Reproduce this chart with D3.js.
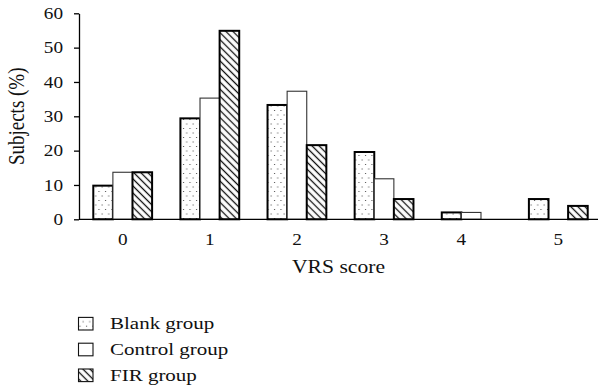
<!DOCTYPE html>
<html>
<head>
<meta charset="utf-8">
<script src="https://cdn.jsdelivr.net/npm/d3@7"></script>
<style>
  html, body { margin: 0; padding: 0; background: #fff; }
  svg { display: block; }
</style>
</head>
<body>
<svg id="chart" width="598" height="389"></svg>
<script>
// VRS score distribution per group (% of subjects)
const categories = ["0", "1", "2", "3", "4", "5"];
const seriesNames = ["Blank group", "Control group", "FIR group"];
const blankValues   = [9.8, 29.4, 33.3, 19.6, 2.0, 5.9];
const controlValues = [13.7, 35.3, 37.3, 11.8, 2.0, 0];
const firValues     = [13.7, 54.9, 21.6, 5.9, 0, 3.9];
const yTicks = [0, 10, 20, 30, 40, 50, 60];
const xTitle = "VRS score";
const yTitle = "Subjects (%)";

const seriesValues = [blankValues, controlValues, firValues];

const FONT = "'Liberation Serif', 'Times New Roman', serif";
const SX = 1.2; // wide setting of the serif type

const svg = d3.select("#chart");
const W = 598;
const plotLeft = 79, plotBottom = 219.3, plotTop = 13.3;

// patterns: dotted fill and diagonal hatch
const defs = svg.append("defs");
const dots = defs.append("pattern")
  .attr("id", "dots").attr("patternUnits", "userSpaceOnUse")
  .attr("width", 6.5).attr("height", 9);
dots.append("rect").attr("width", 6.5).attr("height", 9).attr("fill", "#fff");
dots.append("rect").attr("x", 1).attr("y", 2).attr("width", 1).attr("height", 1).attr("fill", "#444");
dots.append("rect").attr("x", 4.2).attr("y", 6.5).attr("width", 1).attr("height", 1).attr("fill", "#444");

const hatch = defs.append("pattern")
  .attr("id", "hatch").attr("patternUnits", "userSpaceOnUse")
  .attr("width", 5).attr("height", 5)
  .attr("patternTransform", "rotate(45)");
hatch.append("rect").attr("width", 5).attr("height", 5).attr("fill", "#fff");
hatch.append("line").attr("x1", 0).attr("y1", 2.5).attr("x2", 5).attr("y2", 2.5)
  .attr("stroke", "#111").attr("stroke-width", 1.3);

const styles = [
  { fill: "url(#dots)",  stroke: "#000", width: 2.0 },
  { fill: "#fff",        stroke: "#333", width: 1.1 },
  { fill: "url(#hatch)", stroke: "#000", width: 2.0 }
];

// scales
const x0 = d3.scaleBand().domain(categories).range([plotLeft, 602])
  .paddingInner(0.325).paddingOuter(0.164);
const x1 = d3.scaleBand().domain(seriesNames).range([0, x0.bandwidth()]).padding(0);
const y = d3.scaleLinear().domain([0, 60]).range([plotBottom, plotTop]);

// bars (zero values are left out)
const bars = [];
categories.forEach((c, ci) => {
  seriesNames.forEach((s, si) => {
    const v = seriesValues[si][ci];
    if (v > 0) bars.push({ c, s, si, v });
  });
});

svg.append("g").selectAll("rect").data(bars).join("rect")
  .attr("x", d => x0(d.c) + x1(d.s))
  .attr("y", d => y(d.v))
  .attr("width", x1.bandwidth())
  .attr("height", d => y(0) - y(d.v))
  .attr("fill", d => styles[d.si].fill)
  .attr("stroke", d => styles[d.si].stroke)
  .attr("stroke-width", d => styles[d.si].width);

// y axis
const yAxis = svg.append("g").attr("transform", `translate(${plotLeft},0)`)
  .call(d3.axisLeft(y).tickValues(yTicks).tickSize(5).tickSizeOuter(0));
yAxis.attr("font-family", FONT);
yAxis.select(".domain").attr("stroke", "#000").attr("stroke-width", 1.3);
yAxis.selectAll(".tick line").attr("stroke", "#000").attr("stroke-width", 1.3);
yAxis.selectAll(".tick text")
  .attr("font-size", 16).attr("fill", "#111")
  .attr("x", -16 / SX)
  .attr("transform", `scale(${SX},1)`);

// x axis: baseline and labels centred on the drawn bars of each score
const xAxis = svg.append("g").attr("transform", `translate(0,${plotBottom})`)
  .call(d3.axisBottom(x0).tickSize(0).tickPadding(14));
xAxis.attr("font-family", FONT);
xAxis.select(".domain").attr("d", `M${plotLeft},0H${W}`).attr("stroke", "#000").attr("stroke-width", 1.3);
xAxis.selectAll(".tick text")
  .attr("font-size", 16).attr("fill", "#111")
  .attr("transform", `scale(${SX},1)`)
  .attr("x", c => {
    const ci = categories.indexOf(c);
    const drawn = seriesNames.filter((s, si) => seriesValues[si][ci] > 0);
    const lo = x1(drawn[0]);
    const hi = x1(drawn[drawn.length - 1]) + x1.bandwidth();
    return ((lo + hi) / 2 - x0.bandwidth() / 2) / SX;
  });

// axis titles
svg.append("text")
  .attr("transform", `translate(${(plotLeft + W) / 2},273) scale(${SX},1)`)
  .attr("text-anchor", "middle").attr("font-family", FONT)
  .attr("font-size", 18).attr("fill", "#111").text(xTitle);
svg.append("text")
  .attr("transform", `translate(24,${(plotTop + plotBottom) / 2}) scale(${SX},1) rotate(-90)`)
  .attr("text-anchor", "middle").attr("font-family", FONT)
  .attr("font-size", 19).attr("fill", "#111").text(yTitle);

// legend
const legend = svg.append("g").selectAll("g").data(seriesNames).join("g")
  .attr("transform", (d, i) => `translate(78.5,${323.7 + i * 25.8})`);
legend.append("rect")
  .attr("x", 0).attr("y", -6.3).attr("width", 14.5).attr("height", 12.6)
  .attr("fill", (d, i) => styles[i].fill)
  .attr("stroke", "#111").attr("stroke-width", 1.1);
legend.append("text")
  .attr("transform", `translate(31.5,5.5) scale(${SX},1)`)
  .attr("font-family", FONT).attr("font-size", 17.5).attr("fill", "#111")
  .text(d => d);
</script>
</body>
</html>
